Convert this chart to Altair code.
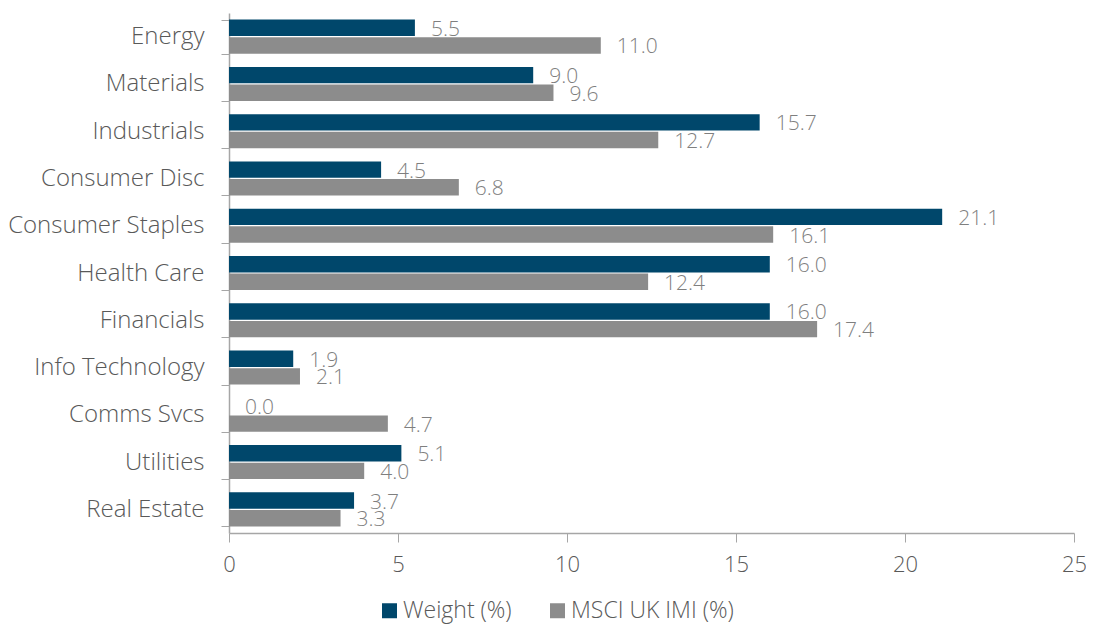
import altair as alt
import pandas as pd

categories = ["Energy", "Materials", "Industrials", "Consumer Disc", "Consumer Staples",
              "Health Care", "Financials", "Info Technology", "Comms Svcs", "Utilities", "Real Estate"]
weight = [5.5, 9.0, 15.7, 4.5, 21.1, 16.0, 16.0, 1.9, 0.0, 5.1, 3.7]
msci = [11.0, 9.6, 12.7, 6.8, 16.1, 12.4, 17.4, 2.1, 4.7, 4.0, 3.3]
series = ["Weight (%)", "MSCI UK IMI (%)"]
colors = ["#00476b", "#8c8c8c"]
x_ticks = [0, 5, 10, 15, 20, 25]

rows = []
for c, w, m in zip(categories, weight, msci):
    rows.append({"Sector": c, "Series": series[0], "Value": w, "Label": f"{w:.1f}"})
    rows.append({"Sector": c, "Series": series[1], "Value": m, "Label": f"{m:.1f}"})
df = pd.DataFrame(rows)

FONT = "Open Sans"
TXT = "#595959"

y_enc = alt.Y("Sector:N", sort=categories,
              scale=alt.Scale(paddingInner=0.28, paddingOuter=0.14),
              axis=alt.Axis(title=None, labelFontSize=24, labelColor=TXT, labelFont=FONT,
                            labelFontWeight=300, labelLimit=400,
                            domainColor="#a6a6a6", tickColor="#a6a6a6",
                            tickSize=8, tickBand="extent", labelPadding=17, domainWidth=1.5))
x_enc = alt.X("Value:Q", scale=alt.Scale(domain=[0, 25], nice=False),
              axis=alt.Axis(title=None, values=x_ticks, grid=False, labelFontSize=22,
                            labelColor=TXT, labelFont=FONT, labelFontWeight=300,
                            labelFlush=False,
                            domainColor="#a6a6a6", tickColor="#a6a6a6", tickSize=9,
                            labelPadding=12, domainWidth=1.5))
yoff = alt.YOffset("Series:N", sort=series, scale=alt.Scale(paddingInner=0.07))

bars = alt.Chart(df).mark_bar().encode(
    y=y_enc, x=x_enc, yOffset=yoff,
    color=alt.Color("Series:N", sort=series,
                    scale=alt.Scale(domain=series, range=colors),
                    legend=alt.Legend(title=None, orient="none", legendX=149, legendY=586,
                                      direction="horizontal", symbolType="square",
                                      symbolSize=225, symbolStrokeWidth=0,
                                      labelFontSize=23, labelFont=FONT, labelFontWeight=300,
                                      labelColor=TXT, columnPadding=34, labelOffset=2,
                                      labelLimit=400)),
)

labels = alt.Chart(df).mark_text(align="left", baseline="middle", dx=16, dy=2,
                                 fontSize=21, font=FONT, fontWeight=300, color="#7f7f7f").encode(
    y=alt.Y("Sector:N", sort=categories), x="Value:Q", yOffset=yoff, text="Label:N")

chart = alt.layer(bars, labels).properties(
    width=845, height=520,
    autosize=alt.AutoSizeParams(type="none"),
    padding={"left": 221, "top": 5, "right": 12, "bottom": 94},
).configure_view(stroke=None)

chart.save("out.html", embed_options={"renderer": "svg", "actions": False})
